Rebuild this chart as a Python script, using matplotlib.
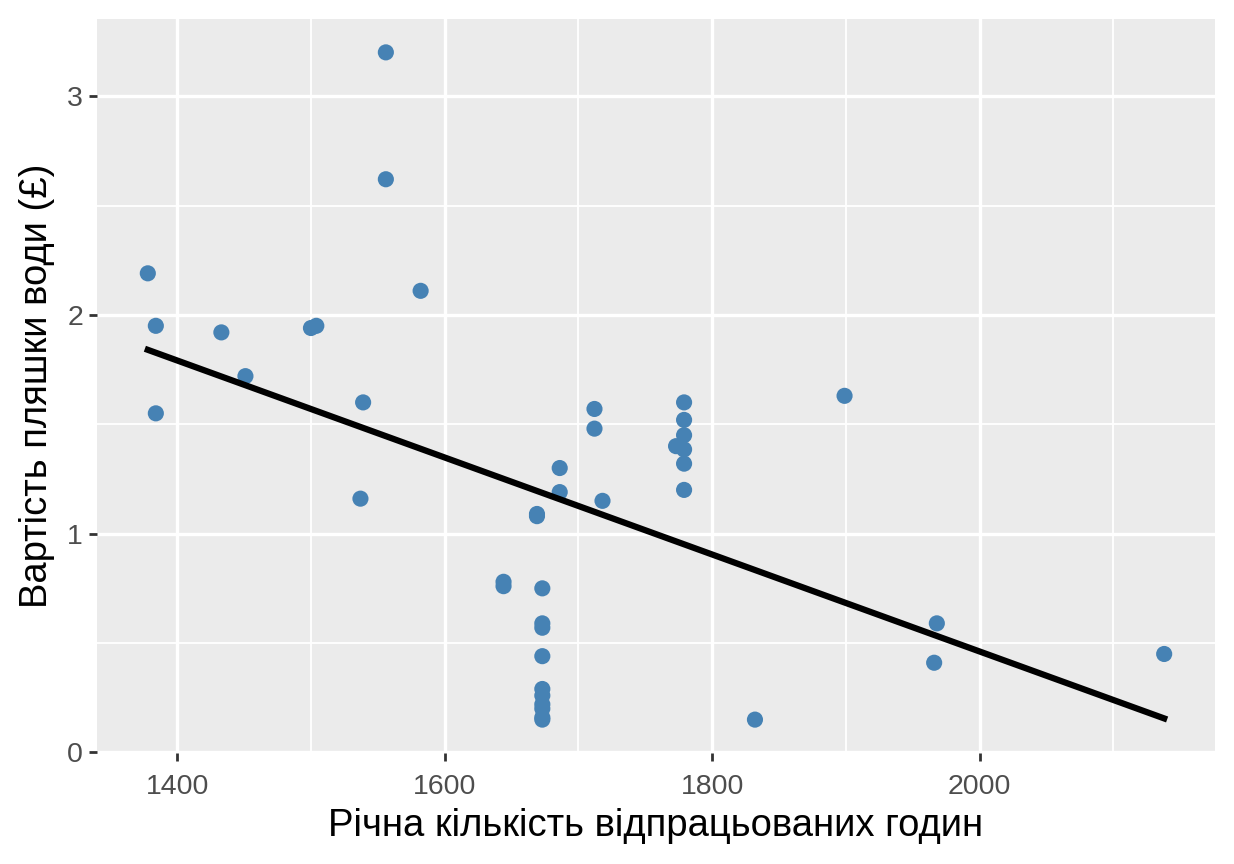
import numpy as np
import matplotlib
matplotlib.use("Agg")
from matplotlib import pyplot as plt
from matplotlib.ticker import MultipleLocator

# annual hours worked vs price of a bottle of water
hours = [1378, 1384, 1384, 1433, 1451, 1500, 1504, 1537, 1539, 1556, 1556, 1582,
         1644, 1644, 1669, 1669, 1673, 1673, 1673, 1673,
         1673, 1673, 1673, 1673, 1673, 1673,
         1686, 1686, 1718, 1712, 1712, 1773,
         1779, 1779, 1779, 1779, 1779, 1779,
         1832, 1899, 1968, 1966, 2138]
price = [2.19, 1.95, 1.55, 1.92, 1.72, 1.94, 1.95, 1.16, 1.60, 3.20, 2.62, 2.11,
         0.78, 0.76, 1.09, 1.08, 0.75, 0.59, 0.57, 0.44,
         0.29, 0.26, 0.22, 0.20, 0.16, 0.15,
         1.30, 1.19, 1.15, 1.57, 1.48, 1.40,
         1.60, 1.52, 1.45, 1.385, 1.32, 1.20,
         0.15, 1.63, 0.59, 0.41, 0.45]

x = np.array(hours, dtype=float)
y = np.array(price, dtype=float)
slope, intercept = np.polyfit(x, y, 1)
x_fit = np.array([x.min(), x.max()])
y_fit = intercept + slope * x_fit

fig = plt.figure(figsize=(12.34, 8.64), dpi=100)
ax = fig.add_axes([0.0786, 0.1285, 0.906, 0.8495])
ax.set_facecolor('#EBEBEB')
for s in ax.spines.values():
    s.set_visible(False)

ax.xaxis.set_major_locator(MultipleLocator(200))
ax.xaxis.set_minor_locator(MultipleLocator(100))
ax.yaxis.set_major_locator(MultipleLocator(1))
ax.yaxis.set_minor_locator(MultipleLocator(0.5))
ax.grid(True, which='major', color='white', linewidth=2.4)
ax.grid(True, which='minor', color='white', linewidth=1.3)
ax.set_axisbelow(True)

ax.scatter(x, y, s=135, color='#4682B4', edgecolors='none', zorder=3)
ax.plot(x_fit, y_fit, color='black', linewidth=4.5, zorder=4)

xr = x.max() - x.min()
yr = y.max() - y.min()
ax.set_xlim(x.min() - 0.05 * xr, x.max() + 0.05 * xr)
ax.set_ylim(y.min() - 0.05 * yr, y.max() + 0.05 * yr)

ax.tick_params(which='major', length=6, width=2, color='#333333',
               labelcolor='#4D4D4D', labelsize=20.5, pad=4)
ax.tick_params(axis='x', which='major', pad=9)
ax.tick_params(which='minor', length=0)
for lab in ax.get_xticklabels() + ax.get_yticklabels():
    lab.set_family('Liberation Sans')

ax.set_xlabel('Річна кількість відпрацьованих годин', fontsize=27.5,
              family='Liberation Sans', labelpad=6)
ax.set_ylabel('Вартість пляшки води (£)', fontsize=27.5,
              family='Liberation Sans', labelpad=9)

fig.savefig('out.png', dpi=100, facecolor='white')
plt.close()
